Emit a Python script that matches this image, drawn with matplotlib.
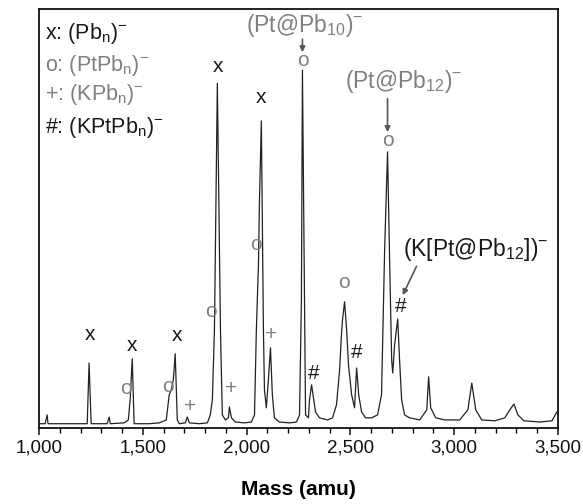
import matplotlib
matplotlib.use("Agg")
import matplotlib.pyplot as plt
from matplotlib.ticker import MultipleLocator, FuncFormatter

plt.rcParams['font.family'] = ['Liberation Sans', 'DejaVu Sans']
plt.rcParams['mathtext.fontset'] = 'custom'
plt.rcParams['mathtext.rm'] = 'Liberation Sans'
plt.rcParams['mathtext.it'] = 'Liberation Sans:italic'
plt.rcParams['mathtext.bf'] = 'Liberation Sans:bold'

# spectrum trace (mass in amu, intensity in % of axis height)
mass = [1000, 1029, 1039, 1043, 1145, 1232, 1241, 1251, 1328, 1338, 1343, 1410, 1430, 1439,
        1449, 1458, 1531, 1579, 1613, 1627, 1637, 1647, 1656, 1666, 1676, 1705, 1714, 1724,
        1772, 1811, 1825, 1835, 1845, 1859, 1874, 1883, 1898, 1912, 1917, 1927, 1946, 1989,
        2023, 2038, 2047, 2057, 2062, 2071, 2081, 2086, 2095, 2105, 2115, 2124, 2134, 2158,
        2207, 2240, 2255, 2264, 2269, 2279, 2284, 2298, 2303, 2313, 2322, 2332, 2351, 2390,
        2414, 2433, 2448, 2457, 2462, 2472, 2482, 2491, 2506, 2520, 2530, 2540, 2554, 2573,
        2602, 2631, 2650, 2665, 2679, 2689, 2699, 2704, 2713, 2728, 2737, 2747, 2761, 2786,
        2834, 2868, 2877, 2887, 2911, 2955, 3027, 3066, 3085, 3104, 3133, 3196, 3244, 3268,
        3288, 3307, 3336, 3413, 3471, 3495]
intensity = [1.0, 1.0, 3.1, 1.0, 1.0, 1.0, 15.5, 1.0, 1.0, 2.6, 1.0, 1.2, 1.9, 6.7,
             16.5, 1.0, 1.0, 1.2, 1.9, 7.9, 9.1, 11.5, 17.7, 1.9, 1.0, 1.2, 2.6, 1.2,
             1.0, 1.2, 3.1, 6.7, 23.4, 82.3, 23.4, 3.1, 1.9, 2.4, 5.0, 2.4, 1.4, 1.2,
             1.4, 3.1, 23.4, 38.9, 54.4, 73.3, 23.4, 9.1, 4.8, 11.5, 19.1, 7.9, 2.4, 1.4,
             1.2, 1.4, 3.1, 30.5, 85.4, 30.5, 3.1, 2.4, 6.7, 10.3, 7.2, 3.8, 2.4, 1.9,
             2.4, 5.5, 13.8, 22.2, 25.8, 30.1, 23.4, 15.0, 7.9, 4.8, 14.3, 7.9, 3.8, 2.4,
             2.4, 3.1, 7.9, 42.5, 65.9, 40.1, 16.2, 13.1, 19.8, 26.0, 16.2, 6.7, 3.1, 2.4,
             1.9, 4.3, 12.2, 4.8, 2.4, 1.9, 1.9, 4.3, 10.7, 4.3, 1.9, 1.7, 2.4, 4.3,
             5.7, 3.1, 1.7, 1.4, 1.7, 3.8]

# peak assignment symbols
pb_mass = [1246, 1449, 1666, 1864, 2071]
pb_height = [22.4, 19.6, 22.0, 86.4, 79.0]
ptpb_mass = [1420, 1623, 1830, 2047, 2269, 2467, 2679]
ptpb_height = [9.3, 9.8, 27.9, 43.7, 87.8, 34.6, 68.7]
kpb_mass = [1729, 1927, 2120]
kpb_height = [5.0, 9.3, 22.4]
kptpb_mass = [2322, 2530, 2742]
kptpb_height = [12.9, 17.9, 28.9]

legend_lines = [r'x: (Pb$_\mathrm{n}$)$^{-}$', r'o: (PtPb$_\mathrm{n}$)$^{-}$',
                r'+: (KPb$_\mathrm{n}$)$^{-}$', r'#: (KPtPb$_\mathrm{n}$)$^{-}$']

dark = '#1a1a1a'
grey = '#808080'

fig = plt.figure(figsize=(5.83, 5.04), dpi=100)
ax = fig.add_axes([0.067, 0.151, 0.890, 0.831])

ax.plot(mass, intensity, color='#222222', lw=0.9)

for m, h in zip(pb_mass, pb_height):
    ax.text(m, h, 'x', color=dark, fontsize=15, ha='center', va='center')
for m, h in zip(ptpb_mass, ptpb_height):
    ax.text(m, h, 'o', color=grey, fontsize=15, ha='center', va='center')
for m, h in zip(kpb_mass, kpb_height):
    ax.text(m, h, '+', color=grey, fontsize=15, ha='center', va='center')
for m, h in zip(kptpb_mass, kptpb_height):
    ax.text(m, h, '#', color=dark, fontsize=15, ha='center', va='center')

# legend block
leg_y = [0.942, 0.866, 0.795, 0.718]
leg_c = [dark, grey, grey, dark]
for txt, yy, c in zip(legend_lines, leg_y, leg_c):
    ax.text(0.012, yy, txt, transform=ax.transAxes, color=c, fontsize=15.5,
            ha='left', va='center')

# labelled clusters
arrow = dict(arrowstyle='-|>', color='#555555', lw=1.2, mutation_scale=8, shrinkA=0, shrinkB=0)
ax.text(2282, 96.0, r'(Pt@Pb$_{10}$)$^{-}$', color=grey, fontsize=16.5, ha='center', va='center')
ax.annotate('', xy=(2269, 89.7), xytext=(2269, 92.8), arrowprops=arrow)
ax.text(2755, 82.6, r'(Pt@Pb$_{12}$)$^{-}$', color=grey, fontsize=16.5, ha='center', va='center')
ax.annotate('', xy=(2679, 70.6), xytext=(2679, 78.6), arrowprops=arrow)
ax.text(3104, 42.5, r'(K[Pt@Pb$_{12}$])$^{-}$', color=dark, fontsize=16.5, ha='center', va='center')
ax.annotate('', xy=(2752, 31.7), xytext=(2819, 38.6), arrowprops=arrow)

ax.set_xlim(1000, 3500)
ax.set_ylim(0, 100)
ax.set_yticks([])
ax.xaxis.set_major_locator(MultipleLocator(500))
ax.xaxis.set_minor_locator(MultipleLocator(100))
ax.xaxis.set_major_formatter(FuncFormatter(lambda v, p: f'{int(v):,}'))
ax.tick_params(axis='x', which='major', direction='out', length=5, width=1.1,
               labelsize=13.5, pad=3, colors='#111111')
ax.tick_params(axis='x', which='minor', direction='out', length=3.3, width=1.0)
for s in ax.spines.values():
    s.set_linewidth(1.3)
    s.set_color('#111111')

ax.set_xlabel('Mass (amu)', fontsize=15, fontweight='bold', labelpad=17)

fig.savefig('out.png', dpi=100)
